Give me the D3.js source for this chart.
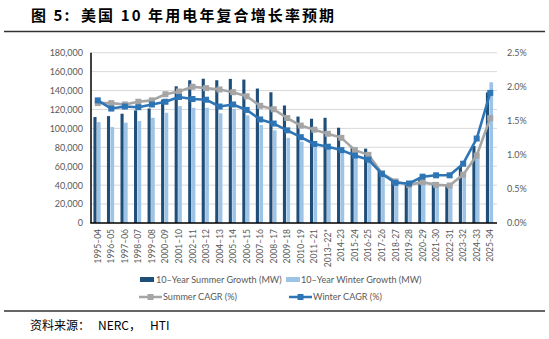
<!DOCTYPE html>
<html><head><meta charset="utf-8">
<script src="https://cdn.jsdelivr.net/npm/d3@7"></script>
<style>
html,body{margin:0;padding:0;background:#fff;}
svg{display:block;}
</style></head>
<body>
<svg id="c" width="549" height="339"></svg>
<script>
const categories = ["1995–04","1996–05","1997–06","1998–07","1999–08","2000–09","2001–10","2002–11","2003–12","2004–13","2005–14","2006–15","2007–16","2008–17","2009–18","2010–19","2011–21","2013–22*","2014-23","2015-24","2016-25","2017-26","2018-27","2019-28","2020-29","2021-30","2022-31","2023-32","2024-33","2025-34"];
const summerGrowth = [112000,113000,115500,119000,121000,130500,144500,150900,152500,150900,152300,151600,142100,138200,124200,112500,110200,111200,100700,80300,78600,55000,44500,41000,48000,42800,39000,60300,81400,138000];
const winterGrowth = [106600,101400,106000,107700,111200,116500,123500,121800,121800,116000,120500,113700,103500,98000,90000,86000,83000,81000,78000,75000,71000,55000,40000,40500,44500,41000,39000,51600,69000,148700];
const summerCAGR = [1.76,1.76,1.74,1.78,1.80,1.89,1.93,2.00,1.98,1.96,1.92,1.86,1.72,1.67,1.54,1.43,1.37,1.31,1.25,1.07,1.00,0.73,0.61,0.56,0.60,0.56,0.55,0.71,0.99,1.54];
const winterCAGR = [1.80,1.68,1.71,1.70,1.74,1.78,1.85,1.82,1.81,1.71,1.74,1.66,1.52,1.46,1.36,1.26,1.16,1.12,1.07,0.99,0.93,0.72,0.59,0.58,0.68,0.70,0.70,0.87,1.24,1.91];
const leftTicks = [0,20000,40000,60000,80000,100000,120000,140000,160000,180000];
const rightTicks = [0,0.5,1.0,1.5,2.0,2.5];
const titleParts = ["图 5:", "美国 10 年用电年复合增长率预期"];
const sourceParts = ["资料来源：", "NERC，", "HTI"];
const legendLabels = ["10–Year Summer Growth (MW)","10–Year Winter Growth (MW)","Summer CAGR (%)","Winter CAGR (%)"];

const C = {dark:"#1f4e79", light:"#9dc3e6", grey:"#a5a5a5", blue:"#2e75b6", text:"#595959", grid:"#d9d9d9"};
const FONT = "Lato, 'Noto Sans', sans-serif";
const CJK = "'Noto Sans CJK SC', sans-serif";
const svg = d3.select("#c");

const L = 91, R = 497, T = 52.7, B = 223;
const x = d3.scaleBand().domain(categories).range([L, R]);
const bw = x.bandwidth();
const yL = d3.scaleLinear().domain([0,180000]).range([B, T]);
const yR = d3.scaleLinear().domain([0,2.5]).range([B, T]);

// title
const tt = svg.append("text").attr("y",21).attr("font-family",CJK)
  .attr("font-weight","bold").attr("font-size",15).attr("fill","#000").attr("letter-spacing",2.1);
tt.append("tspan").attr("x",31).text(titleParts[0]);
tt.append("tspan").attr("x",81).text(titleParts[1]);
svg.append("line").attr("x1",4).attr("x2",545).attr("y1",31.5).attr("y2",31.5).attr("stroke","#333").attr("stroke-width",1.3);

// gridlines
svg.append("g").selectAll("line").data(leftTicks.slice(1)).join("line")
  .attr("x1",L).attr("x2",R).attr("y1",d=>yL(d)).attr("y2",d=>yL(d))
  .attr("stroke",C.grid).attr("stroke-width",1);

// left axis
const axL = svg.append("g").attr("transform",`translate(${L},0)`)
  .call(d3.axisLeft(yL).tickValues(leftTicks).tickSize(0).tickPadding(8).tickFormat(d3.format(",")));
axL.select(".domain").remove();
axL.selectAll("text").attr("font-family",FONT).attr("font-size",9).attr("fill",C.text);

// right axis
const axR = svg.append("g").attr("transform",`translate(${R},0)`)
  .call(d3.axisRight(yR).tickValues(rightTicks).tickSize(0).tickPadding(10).tickFormat(d=>d.toFixed(1)+"%"));
axR.select(".domain").remove();
axR.selectAll("text").attr("font-family",FONT).attr("font-size",9).attr("fill",C.text);

// bars
svg.append("g").selectAll("rect").data(summerGrowth).join("rect")
  .attr("x",(d,i)=>x(categories[i])+bw*0.18).attr("width",bw*0.23)
  .attr("y",d=>yL(d)).attr("height",d=>B-yL(d)).attr("fill",C.dark);
svg.append("g").selectAll("rect").data(winterGrowth).join("rect")
  .attr("x",(d,i)=>x(categories[i])+bw*0.44).attr("width",bw*0.27)
  .attr("y",d=>yL(d)).attr("height",d=>B-yL(d)).attr("fill",C.light);

// axes lines
svg.append("line").attr("x1",L).attr("x2",L).attr("y1",T).attr("y2",B).attr("stroke","#000").attr("stroke-width",1.5);
svg.append("line").attr("x1",L-0.75).attr("x2",R).attr("y1",B).attr("y2",B).attr("stroke","#000").attr("stroke-width",1.5);

// x labels
const axX = svg.append("g").attr("transform",`translate(0,${B})`)
  .call(d3.axisBottom(x).tickSize(0).tickPadding(0));
axX.select(".domain").remove();
axX.selectAll("text").attr("font-family",FONT).attr("font-size",8.5).attr("fill",C.text)
  .attr("text-anchor","end").attr("dy",null).attr("y",null)
  .attr("transform","translate(3,6) rotate(-90)");

// lines
function drawLine(data,color){
  const pts = data.map((v,i)=>[x(categories[i])+bw/2, yR(v)]);
  svg.append("path").attr("d",d3.line()(pts)).attr("fill","none").attr("stroke",color).attr("stroke-width",2.6).attr("stroke-linejoin","round");
  svg.append("g").selectAll("rect").data(pts).join("rect")
    .attr("x",p=>p[0]-3).attr("y",p=>p[1]-3).attr("width",6).attr("height",6).attr("fill",color);
}
drawLine(summerCAGR,C.grey);
drawLine(winterCAGR,C.blue);

// legend
const lg = svg.append("g").attr("font-family",FONT).attr("font-size",9.1).attr("fill",C.text);
lg.append("rect").attr("x",140).attr("y",277).attr("width",14).attr("height",5).attr("fill",C.dark);
lg.append("text").attr("x",156).attr("y",283.3).text(legendLabels[0]);
lg.append("rect").attr("x",286).attr("y",277).attr("width",14).attr("height",5).attr("fill",C.light);
lg.append("text").attr("x",301).attr("y",283.3).text(legendLabels[1]);
lg.append("line").attr("x1",139).attr("x2",162).attr("y1",297).attr("y2",297).attr("stroke",C.grey).attr("stroke-width",2.5);
lg.append("rect").attr("x",147.5).attr("y",294).attr("width",6).attr("height",6).attr("fill",C.grey);
lg.append("text").attr("x",163).attr("y",300.3).text(legendLabels[2]);
lg.append("line").attr("x1",289).attr("x2",312).attr("y1",297).attr("y2",297).attr("stroke",C.blue).attr("stroke-width",2.5);
lg.append("rect").attr("x",297.5).attr("y",294).attr("width",6).attr("height",6).attr("fill",C.blue);
lg.append("text").attr("x",313).attr("y",300.3).text(legendLabels[3]);

// bottom rule and source
svg.append("line").attr("x1",4).attr("x2",545).attr("y1",311).attr("y2",311).attr("stroke","#333").attr("stroke-width",1.3);
const st = svg.append("text").attr("y",330).attr("font-family",CJK).attr("font-size",12).attr("fill","#000");
st.append("tspan").attr("x",30).text(sourceParts[0]);
st.append("tspan").attr("x",98).text(sourceParts[1]);
st.append("tspan").attr("x",150).text(sourceParts[2]);
</script>
</body></html>
